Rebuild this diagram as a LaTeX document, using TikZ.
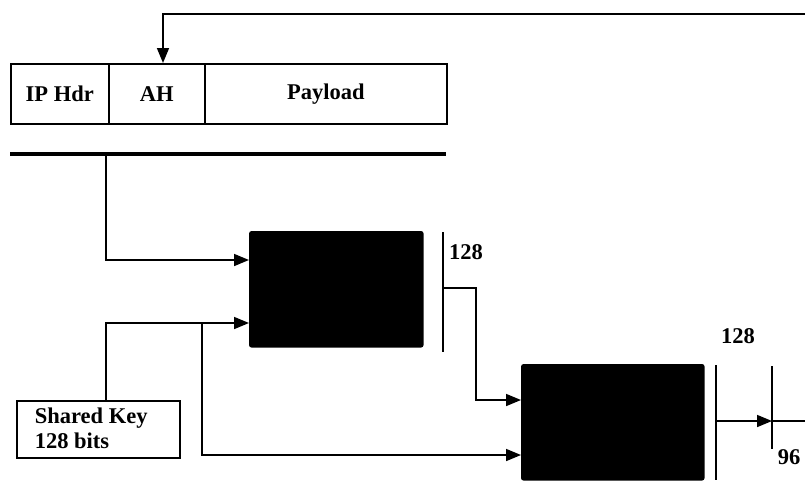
\documentclass[tikz,border=0pt]{standalone}
\usepackage{fontspec}
\setmainfont{Liberation Serif}
\usetikzlibrary{arrows.meta}
\begin{document}
\begin{tikzpicture}[x=1pt,y=-1pt,
  line width=1.6pt,
  txt/.style={font=\fontsize{22.5}{25}\selectfont\bfseries},
  field/.style={draw, line width=1.6pt, minimum height=60pt, inner sep=0pt, txt},
  blk/.style={fill=black, draw=black, rounded corners=2pt, inner sep=0pt},
  arr/.style={-{Triangle[length=15pt,width=12pt]}},
  bar/.style={line width=1.6pt}]
\useasboundingbox (0,0) rectangle (805,480);
% packet
\node[field, minimum width=98pt, anchor=north west] (iphdr) at (10,63) {IP Hdr};
\node[field, minimum width=96pt, anchor=north west] (ah) at (108,63) {AH};
\node[field, minimum width=242pt, anchor=north west] (payload) at (204,63) {Payload};
% thick line
\coordinate (tl) at (10,154);
\coordinate (tr) at (446,154);
\draw[line width=4pt] (tl) -- (tr);
% blocks
\node[blk, minimum width=173pt, minimum height=115pt, anchor=north west] (mac1) at (249,231) {};
\node[blk, minimum width=182pt, minimum height=115pt, anchor=north west] (mac2) at (521,364) {};
% key
\node[draw, line width=1.6pt, minimum width=163pt, minimum height=57pt, anchor=north west, inner sep=0pt] (key) at (16,400) {};
\node[txt, align=left, anchor=west, inner sep=0pt] (keytxt) at (34,428) {Shared Key\\128 bits};
% bars
\coordinate (b1t) at (443,232);
\coordinate (b1b) at (443,352);
\draw[bar] (b1t) -- (b1b);
\coordinate (b2t) at (716,365);
\coordinate (b2b) at (716,480);
\draw[bar] (b2t) -- (b2b);
\coordinate (b3t) at (772,366);
\coordinate (b3b) at (772,449);
\draw[bar] (b3t) -- (b3b);
% labels
\node[txt] (l1) at (466,252) {128};
\node[txt] (l2) at (738,336) {128};
\node[txt] (l3) at (789,457) {96};
% connectors
\coordinate (top1) at (163,14);
\coordinate (top2) at (805,14);
\draw[arr] (top2) -- (top1) -- (ah.north -| top1);
\coordinate (d1) at (106,154);
\coordinate (d2) at (106,260);
\draw[arr] (d1) -- (d2) -- (d2 -| mac1.west);
\coordinate (k1) at (106,323);
\draw[arr] (key.north -| k1) -- (k1) -- (k1 -| mac1.west);
\coordinate (br1) at (202,323);
\coordinate (br2) at (202,455);
\draw[arr] (br1) -- (br2) -- (br2 -| mac2.west);
\coordinate (o1) at (443,288);
\coordinate (o2) at (476,288);
\coordinate (o3) at (476,400);
\draw[arr] (o1) -- (o2) -- (o3) -- (o3 -| mac2.west);
\coordinate (f1) at (716,421);
\coordinate (f2) at (772,421);
\coordinate (f3) at (805,421);
\draw (f2) -- (f3);
\draw[arr] (f1) -- (f2);
\end{tikzpicture}
\end{document}
